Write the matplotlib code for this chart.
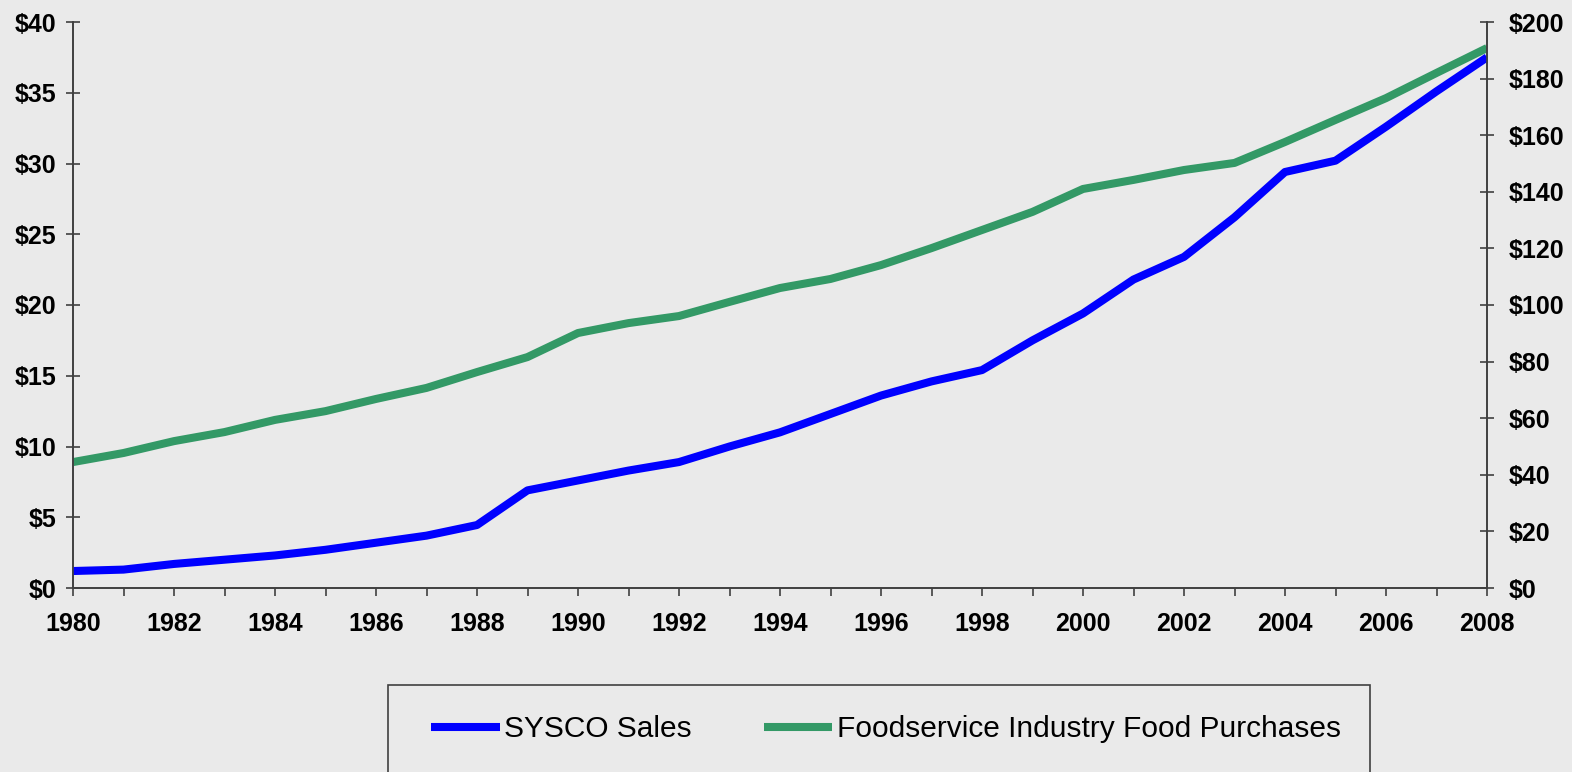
import matplotlib
matplotlib.use("Agg")
import matplotlib.pyplot as plt
from matplotlib.patches import Rectangle

# data
years = list(range(1980, 2009))
sysco_sales = [1.2, 1.3, 1.7, 2.0, 2.3, 2.7, 3.2, 3.7, 4.45, 6.9,
               7.6, 8.3, 8.9, 10.0, 11.0, 12.3, 13.6, 14.6, 15.4, 17.5,
               19.4, 21.8, 23.4, 26.2, 29.4, 30.2, 32.6, 35.1, 37.5]
food_purchases = [44.5, 47.7, 51.9, 55.1, 59.4, 62.5, 66.8, 70.7, 76.3, 81.6,
                  90.1, 93.6, 96.1, 101.1, 106.0, 109.2, 114.1, 120.1, 126.5, 132.9,
                  141.0, 144.2, 147.7, 150.2, 157.6, 165.4, 173.1, 182.0, 190.8]
left_ticks = list(range(0, 41, 5))
right_ticks = list(range(0, 201, 20))
labels = ["SYSCO Sales", "Foodservice Industry Food Purchases"]

bg = "#EAEAEA"
spine_col = "#404040"
plt.rcParams['font.family'] = ['Liberation Sans', 'DejaVu Sans']

fig = plt.figure(figsize=(15.72, 7.72), dpi=100, facecolor=bg)
ax = fig.add_axes([73/1572, 1-588/772, (1487-73)/1572, (588-22)/772])
ax2 = ax.twinx()
ax.set_zorder(ax2.get_zorder() + 1)
ax.patch.set_visible(False)
ax2.patch.set_facecolor(bg)

l2, = ax2.plot(years, food_purchases, color="#339966", lw=5.8,
               solid_capstyle='butt', solid_joinstyle='round')
l1, = ax.plot(years, sysco_sales, color="#0000FF", lw=5.8,
              solid_capstyle='butt', solid_joinstyle='round')

ax.set_xlim(1980, 2008)
ax.set_ylim(0, 40)
ax2.set_ylim(0, 200)

ax.set_xticks(years)
ax.set_xticklabels([str(y) if y % 2 == 0 else '' for y in years],
                   fontsize=18, fontweight='bold')
ax.set_yticks(left_ticks)
ax.set_yticklabels([f"${v}" for v in left_ticks], fontsize=18, fontweight='bold')
ax2.set_yticks(right_ticks)
ax2.set_yticklabels([f"${v}" for v in right_ticks], fontsize=18, fontweight='bold')

ax.tick_params(axis='x', direction='out', length=5.5, width=1.2, color=spine_col, pad=12)
ax.tick_params(axis='y', direction='inout', length=9.5, width=1.2, color=spine_col, pad=7)
ax2.tick_params(axis='y', direction='inout', length=9.5, width=1.2, color=spine_col, pad=11)

for a in (ax, ax2):
    a.spines['top'].set_visible(False)
    for s in ('left', 'right', 'bottom'):
        a.spines[s].set_color(spine_col)
        a.spines[s].set_linewidth(1.2)

# legend box at the bottom
fig.patches.append(Rectangle((388/1572, -0.01), (1370-388)/1572, 1-685/772 + 0.01,
                             transform=fig.transFigure, facecolor='none',
                             edgecolor=spine_col, lw=1.2))
fig.legend([l1, l2], labels, loc='center', bbox_to_anchor=(886/1572, 1-729/772),
           ncol=2, frameon=False, fontsize=21.5, handlelength=2.3,
           handletextpad=0.15, columnspacing=2.4)

fig.savefig("out.png", dpi=100, facecolor=bg)
